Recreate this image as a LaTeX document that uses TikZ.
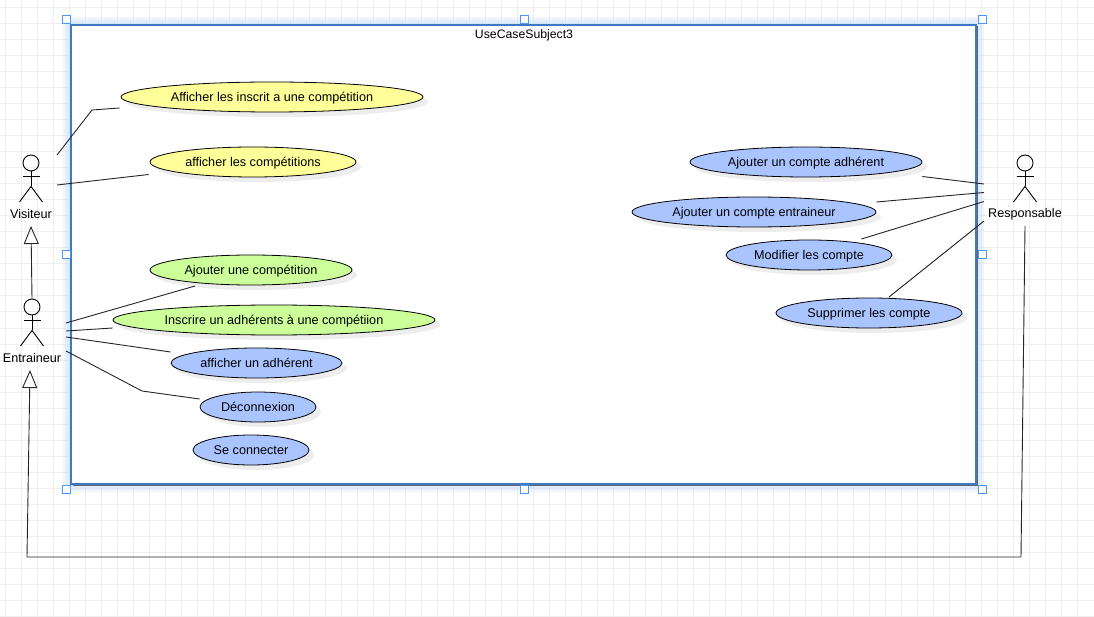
\documentclass[tikz,border=0pt]{standalone}
\usepackage{fontspec}
\setmainfont{Liberation Sans}
\usetikzlibrary{positioning,arrows.meta,shadows,calc,shapes.geometric}
\definecolor{gridline}{HTML}{EEEEEE}
\definecolor{frameblue}{HTML}{3F78C4}
\definecolor{handleblue}{HTML}{4A98F5}
\definecolor{glowblue}{HTML}{CFE2FA}
\definecolor{caseyellow}{HTML}{FFFF99}
\definecolor{casegreen}{HTML}{CCFF99}
\definecolor{caseblue}{HTML}{AAC4FF}
\begin{document}
\begin{tikzpicture}[
  x=1pt,y=-1pt,
  font=\fontsize{12.65}{15}\selectfont,
  line width=0.9pt,
  >={Triangle[open,length=18pt,width=15pt]},
  usecase/.style={draw,ellipse,inner sep=0pt,minimum height=30pt,line width=0.8pt,text height=9.5pt,text depth=1pt,
    drop shadow={shadow xshift=5pt,shadow yshift=-5pt,fill=black!7,opacity=1}},
  yellowcase/.style={usecase,fill=caseyellow},
  greencase/.style={usecase,fill=casegreen},
  bluecase/.style={usecase,fill=caseblue},
  acthead/.style={draw,circle,inner sep=0pt,minimum size=16pt},
  actlabel/.style={inner sep=1pt,font=\fontsize{12.6}{15}\selectfont},
  assoc/.style={draw=black!85},
  gen/.style={->,draw=black!85},
  glowbox/.style={fill=glowblue,fill opacity=0.3,inner sep=0pt},
  handle/.style={draw=handleblue,fill=white,line width=1pt,minimum size=8pt,inner sep=0pt},
]
\useasboundingbox (0,0) rectangle (1094,617);
% grid
\foreach \gx in {5.5,21.5,...,1093}
  \draw[gridline,line width=1pt] (\gx,0) -- (\gx,616);
\foreach \gy in {8,24,...,616}
  \draw[gridline,line width=1pt] (0,\gy) -- (1094,\gy);
% subject
\foreach \gw in {8,6,4,2}
  \node[glowbox,minimum width=905pt+2*\gw pt,minimum height=459pt+2*\gw pt] at (523.5,254.5) {};
\node[fill=black!60,minimum width=905pt,minimum height=459pt,inner sep=0pt] (edge) at (525,256) {};
\node[draw=frameblue,fill=white,line width=1.2pt,minimum width=905pt,minimum height=459pt,inner sep=0pt] (subject) at (523.5,254.5) {};
\node[font=\fontsize{12.25}{15}\selectfont] (title) at (524,35) {UseCaseSubject3};
% left cases
\node[yellowcase,minimum width=302pt] (inscrit) at (272,97) {Afficher les inscrit a une compétition};
\node[yellowcase,minimum width=206pt] (compet) at (253,162) {afficher les compétitions};
\node[greencase,minimum width=202pt] (ajcompet) at (251,270) {Ajouter une compétition};
\node[greencase,minimum width=322pt] (inscrire) at (274,320) {Inscrire un adhérents à une compétiion};
\node[bluecase,minimum width=171pt] (adherent) at (256.5,363) {afficher un adhérent};
\node[bluecase,minimum width=116pt] (deconn) at (258,407) {Déconnexion};
\node[bluecase,minimum width=116pt] (conn) at (251,450) {Se connecter};
% right cases
\node[bluecase,minimum width=232pt] (cadherent) at (806,162) {Ajouter un compte adhérent};
\node[bluecase,minimum width=244pt] (centraineur) at (754,212) {Ajouter un compte entraineur};
\node[bluecase,minimum width=166pt] (modifier) at (809,255) {Modifier les compte};
\node[bluecase,minimum width=186pt] (supprimer) at (869,313) {Supprimer les compte};
% actors
\foreach \name/\hx/\hy/\txt in {visiteur/31/163/Visiteur,entraineur/32/307/Entraineur,responsable/1025/163/Responsable}{
  \node[acthead] (\name) at (\hx,\hy) {};
  \draw (\name.south) -- ++(0,15) ++(-8.5,-10) -- ++(17,0);
  \draw ([shift={(0,15)}]\name.south) ++(-11.5,15.5) -- ++(11.5,-15.5) -- ++(11.5,15.5);
  \node[actlabel] (\name lab) at (\hx,\hy+51) {\txt};
}
% visiteur
\draw[assoc] ([shift={(26,-8)}]visiteur.center) -- (92,110) -- ([shift={(-1,11)}]inscrit.west);
\draw[assoc] ([shift={(26,22)}]visiteur.center) -- ([shift={(-1,12.5)}]compet.west);
% entraineur
\draw[gen] (entraineur.north) -- ([shift={(0,12)}]visiteurlab.center);
\draw[assoc] ([shift={(34,16)}]entraineur.center) -- ([shift={(-56,16)}]ajcompet.center);
\draw[assoc] ([shift={(34,24)}]entraineur.center) -- ([shift={(0,8)}]inscrire.west);
\draw[assoc] ([shift={(34,30)}]entraineur.center) -- ([shift={(0,-11)}]adherent.west);
\draw[assoc] ([shift={(34,44)}]entraineur.center) -- (142,391) -- ([shift={(0,-8)}]deconn.west);
% responsable
\coordinate (respA) at (984,184);
\coordinate (respB) at (984,192.5);
\coordinate (respC) at (984,201.5);
\coordinate (respD) at (984,221);
\draw[assoc] ([shift={(0,14.5)}]cadherent.east) -- (respA);
\draw[assoc] ([shift={(0,-10)}]centraineur.east) -- (respB);
\draw[assoc] ([shift={(-31,-16)}]modifier.east) -- (respC);
\draw[assoc] ([shift={(20,-16)}]supprimer.center) -- (respD);
% generalisation from responsable
\coordinate (genturnR) at (1021,557);
\coordinate (genturnL) at (27,557);
\draw[gen] ([shift={(0,12)}]responsablelab.center) -- (genturnR) -- (genturnL) -- ([shift={(-2,12)}]entraineurlab.center);
% handles
\foreach \hname/\hx/\hy in {hnw/66.5/20,hn/524/20,hne/982.5/20,hw/66.5/254.5,he/982.5/254.5,hsw/66.5/489,hs/524/489,hse/982.5/489}
  \node[handle] (\hname) at (\hx,\hy) {};
\end{tikzpicture}
\end{document}
